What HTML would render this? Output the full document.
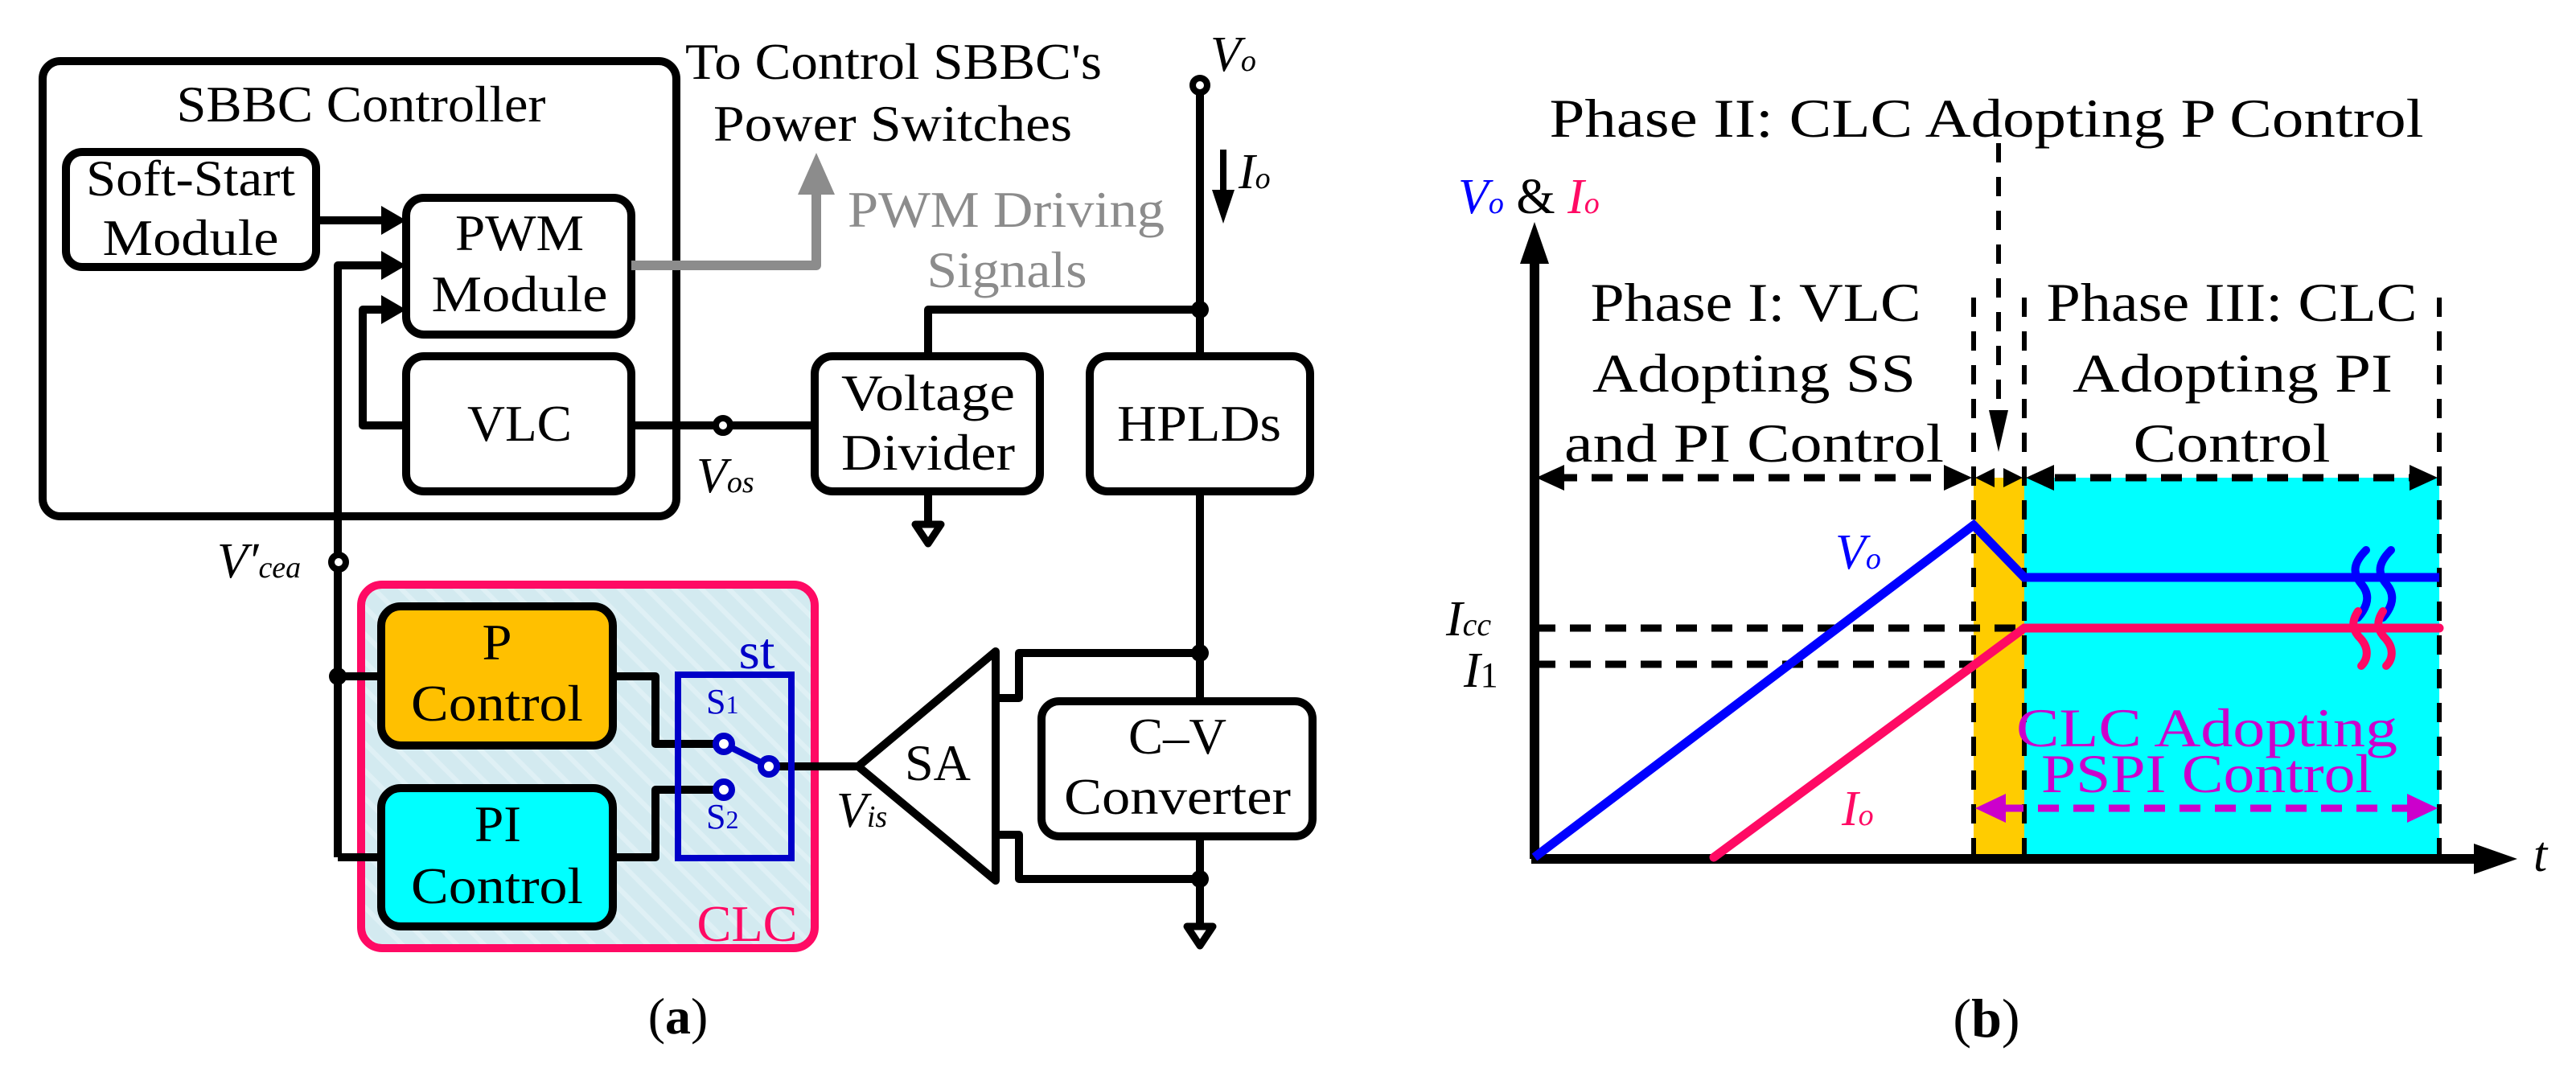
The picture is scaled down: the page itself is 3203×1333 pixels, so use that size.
<!DOCTYPE html>
<html><head><meta charset="utf-8"><style>
html,body{margin:0;padding:0;background:#fff}
svg{display:block;font-family:"Liberation Serif","DejaVu Serif",serif}
svg text, svg tspan{font-family:"Liberation Serif","DejaVu Serif",serif}
</style></head><body>
<svg width="3203" height="1333" viewBox="0 0 3203 1333" xmlns="http://www.w3.org/2000/svg" font-family="Liberation Serif, DejaVu Serif, serif">
<defs>
<pattern id="hatch" width="24" height="24" patternUnits="userSpaceOnUse" patternTransform="rotate(-45)">
<rect width="24" height="24" fill="#d3eaf0"/><rect width="6" height="24" fill="#dff0f5"/>
</pattern>
</defs>
<g fill="none" stroke="#000" stroke-width="10" stroke-linejoin="round">
<rect x="53" y="76" width="788" height="566" rx="22"/>
<rect x="82" y="189" width="311" height="143" rx="20"/>
<rect x="505" y="246" width="280" height="170" rx="22"/>
<rect x="505" y="443" width="280" height="168" rx="22"/>
<path d="M393 274H492"/>
<path d="M420 1066V330H492"/>
<path d="M505 529H451V385H492"/>
<path d="M785 529H1013"/>
<path d="M1492 114V1152"/>
<path d="M1492 385H1154V443"/>
<path d="M1154 611V652"/>
</g>
<g fill="#000">
<polygon points="505,274 474,256 474,292"/>
<polygon points="505,330 474,312 474,348"/>
<polygon points="505,385 474,367 474,403"/>
<polygon points="1521,278 1507,236 1535,236"/>
</g>
<path d="M1521 186V250" stroke="#000" stroke-width="8"/>
<path d="M785 330H1015V232" fill="none" stroke="#8c8c8c" stroke-width="12" stroke-linejoin="round"/>
<polygon points="1015,190 992,242 1038,242" fill="#8c8c8c"/>
<polygon points="1138,652 1170,652 1154,676" fill="#fff" stroke="#000" stroke-width="9" stroke-linejoin="round"/>
<rect x="1013" y="443" width="280" height="168" rx="22" fill="#fff" stroke="#000" stroke-width="10"/>
<rect x="1355" y="443" width="274" height="168" rx="22" fill="#fff" stroke="#000" stroke-width="10"/>
<rect x="1295" y="872" width="337" height="168" rx="22" fill="#fff" stroke="#000" stroke-width="10"/>
<g fill="none" stroke="#000" stroke-width="10" stroke-linejoin="round">
<path d="M1238 868H1267V812H1492"/>
<path d="M1238 1038H1267V1093H1492"/>
<path d="M1238 810L1067 953L1238 1095Z"/>
<path d="M1492 1093V1152"/>
</g>
<polygon points="1476,1152 1508,1152 1492,1176" fill="#fff" stroke="#000" stroke-width="9" stroke-linejoin="round"/>
<rect x="449" y="727" width="564" height="452" rx="26" fill="url(#hatch)" stroke="#ff0a64" stroke-width="10"/>
<g fill="none" stroke="#000" stroke-width="10" stroke-linejoin="round">
<path d="M420 841H474"/>
<path d="M420 1066H474"/>
<path d="M762 841H815V925H890"/>
<path d="M762 1066H815V982H890"/>
<path d="M966 953H1067"/>
</g>
<rect x="474" y="754" width="288" height="173" rx="24" fill="#ffc000" stroke="#000" stroke-width="10"/>
<rect x="474" y="980" width="288" height="172" rx="24" fill="#00ffff" stroke="#000" stroke-width="10"/>
<rect x="843" y="839" width="141" height="228" fill="none" stroke="#0000c8" stroke-width="8"/>
<path d="M900 925L956 953" stroke="#0000c8" stroke-width="8"/>
<g fill="#fff" stroke="#0000c8" stroke-width="8">
<circle cx="900" cy="925" r="10"/><circle cx="956" cy="953" r="10"/><circle cx="900" cy="982" r="10"/>
</g>
<g fill="#fff" stroke="#000" stroke-width="8">
<circle cx="899" cy="529" r="9"/><circle cx="1492" cy="106" r="9"/><circle cx="421" cy="699" r="9"/>
</g>
<g fill="#000">
<circle cx="1492" cy="385" r="11"/><circle cx="1492" cy="812" r="11"/><circle cx="1492" cy="1093" r="11"/><circle cx="420" cy="841" r="11"/>
</g>
<g font-size="64" fill="#000" text-anchor="middle">
<text x="449" y="151" textLength="459" lengthAdjust="spacingAndGlyphs">SBBC Controller</text>
<text x="237" y="243" textLength="260" lengthAdjust="spacingAndGlyphs">Soft-Start</text>
<text x="237" y="317" textLength="219" lengthAdjust="spacingAndGlyphs">Module</text>
<text x="646" y="311" textLength="160" lengthAdjust="spacingAndGlyphs">PWM</text>
<text x="646" y="387" textLength="219" lengthAdjust="spacingAndGlyphs">Module</text>
<text x="646" y="548" textLength="130" lengthAdjust="spacingAndGlyphs">VLC</text>
<text x="1111" y="98" textLength="518" lengthAdjust="spacingAndGlyphs">To Control SBBC's</text>
<text x="1110" y="175" textLength="446" lengthAdjust="spacingAndGlyphs">Power Switches</text>
<text x="1251" y="282" fill="#8c8c8c" textLength="394" lengthAdjust="spacingAndGlyphs">PWM Driving</text>
<text x="1252" y="357" fill="#8c8c8c" textLength="199" lengthAdjust="spacingAndGlyphs">Signals</text>
<text x="1154" y="510" textLength="216" lengthAdjust="spacingAndGlyphs">Voltage</text>
<text x="1154" y="584" textLength="216" lengthAdjust="spacingAndGlyphs">Divider</text>
<text x="1491" y="548" textLength="204" lengthAdjust="spacingAndGlyphs">HPLDs</text>
<text x="618" y="820" textLength="37" lengthAdjust="spacingAndGlyphs">P</text>
<text x="618" y="896" textLength="214" lengthAdjust="spacingAndGlyphs">Control</text>
<text x="619" y="1046" textLength="58" lengthAdjust="spacingAndGlyphs">PI</text>
<text x="618" y="1123" textLength="214" lengthAdjust="spacingAndGlyphs">Control</text>
<text x="1166" y="970" textLength="82" lengthAdjust="spacingAndGlyphs">SA</text>
<text x="1464" y="937" textLength="122" lengthAdjust="spacingAndGlyphs">C–V</text>
<text x="1464" y="1012" textLength="282" lengthAdjust="spacingAndGlyphs">Converter</text>
<text x="929" y="1170" fill="#ff0a64" textLength="125" lengthAdjust="spacingAndGlyphs">CLC</text>
<text x="941" y="831" fill="#0000c8" textLength="45" lengthAdjust="spacingAndGlyphs">st</text>
<text x="843" y="1285">(<tspan font-weight="bold">a</tspan>)</text>
</g>
<g fill="#0000c8" font-size="44">
<text x="878" y="887">S<tspan font-size="32">1</tspan></text>
<text x="878" y="1030">S<tspan font-size="32">2</tspan></text>
</g>
<g font-style="italic" fill="#000" font-size="62">
<text x="1505" y="88">V<tspan font-size="38">o</tspan></text>
<text x="1540" y="234">I<tspan font-size="38">o</tspan></text>
<text x="866" y="612">V<tspan font-size="38">os</tspan></text>
<text x="270" y="718">V′<tspan font-size="38">cea</tspan></text>
<text x="1040" y="1028">V<tspan font-size="38">is</tspan></text>
</g>

<rect x="2454" y="594" width="63" height="474" fill="#ffcc00"/>
<rect x="2517" y="594" width="516" height="474" fill="#00ffff"/>
<g fill="none" stroke="#000" stroke-width="6" stroke-dasharray="24,18">
<path d="M2454 370V1068"/><path d="M2517 370V1068"/><path d="M3033 370V1068"/>
<path d="M2485 178V530"/>
</g>
<g fill="none" stroke="#000" stroke-width="9" stroke-dasharray="26,18">
<path d="M1935 594H2420"/><path d="M2555 594H3000"/>
<path d="M1908 781H2535"/><path d="M1908 826H2454"/>
</g>
<g fill="#000">
<polygon points="2485,562 2473,510 2497,510"/>
<polygon points="1910,594 1945,578 1945,610"/>
<polygon points="2452,594 2417,578 2417,610"/>
<polygon points="2456,594 2480,582 2480,606"/>
<polygon points="2515,594 2491,582 2491,606"/>
<polygon points="2519,594 2554,578 2554,610"/>
<polygon points="3031,594 2996,578 2996,610"/>
</g>
<path d="M1908 1068V320M1904 1068H3090" stroke="#000" stroke-width="12" fill="none"/>
<polygon points="1908,276 1890,328 1926,328" fill="#000"/>
<polygon points="3130,1068 3076,1049 3076,1087" fill="#000"/>
<path d="M1908 1066L2454 653L2517 718H3033" fill="none" stroke="#0000ff" stroke-width="11" stroke-linejoin="miter"/>
<path d="M2131 1066L2517 781H3033" fill="none" stroke="#ff0a64" stroke-width="11" stroke-linecap="round"/>
<g fill="none" stroke-width="10" stroke-linecap="round">
<path d="M2942 684C2922 704 2928 716 2936 726C2948 740 2944 754 2932 768" stroke="#0000ff"/>
<path d="M2973 684C2953 704 2959 716 2967 726C2979 740 2975 754 2963 768" stroke="#0000ff"/>
<path d="M2932 760C2922 775 2926 785 2936 795C2946 807 2944 820 2936 828" stroke="#ff0a64"/>
<path d="M2963 760C2953 775 2957 785 2967 795C2977 807 2975 820 2967 828" stroke="#ff0a64"/>
</g>
<path d="M2490 1005H3000" stroke="#cc00cc" stroke-width="9" stroke-dasharray="26,18"/>
<polygon points="2456,1005 2494,987 2494,1023" fill="#cc00cc"/>
<polygon points="3031,1005 2993,987 2993,1023" fill="#cc00cc"/>
<g font-size="68" fill="#000" text-anchor="middle">
<text x="2470" y="170" textLength="1087" lengthAdjust="spacingAndGlyphs">Phase II: CLC Adopting P Control</text>
<text x="2183" y="399" textLength="411" lengthAdjust="spacingAndGlyphs">Phase I: VLC</text>
<text x="2181" y="487" textLength="402" lengthAdjust="spacingAndGlyphs">Adopting SS</text>
<text x="2181" y="574" textLength="472" lengthAdjust="spacingAndGlyphs">and PI Control</text>
<text x="2775" y="399" textLength="461" lengthAdjust="spacingAndGlyphs">Phase III: CLC</text>
<text x="2776" y="487" textLength="398" lengthAdjust="spacingAndGlyphs">Adopting PI</text>
<text x="2775" y="574" textLength="245" lengthAdjust="spacingAndGlyphs">Control</text>
<text x="2744" y="928" fill="#cc00cc" textLength="474" lengthAdjust="spacingAndGlyphs">CLC Adopting</text>
<text x="2744" y="985" fill="#cc00cc" textLength="412" lengthAdjust="spacingAndGlyphs">PSPI Control</text>
<text x="2470" y="1289">(<tspan font-weight="bold">b</tspan>)</text>
</g>
<g font-size="62">
<text x="1813" y="265"><tspan fill="#0000ff" font-style="italic">V<tspan font-size="38">o</tspan></tspan><tspan fill="#000"> &amp; </tspan><tspan fill="#ff0a64" font-style="italic">I<tspan font-size="38">o</tspan></tspan></text>
<text x="2282" y="707" fill="#0000ff" font-style="italic">V<tspan font-size="38">o</tspan></text>
<text x="2290" y="1026" fill="#ff0a64" font-style="italic">I<tspan font-size="38">o</tspan></text>
<text x="1798" y="790" font-style="italic">I<tspan font-size="40">cc</tspan></text>
<text x="1820" y="854" font-style="italic">I<tspan font-size="44" font-style="normal">1</tspan></text>
<text x="3150" y="1083" font-style="italic">t</text>
</g>
</svg>
</body></html>
